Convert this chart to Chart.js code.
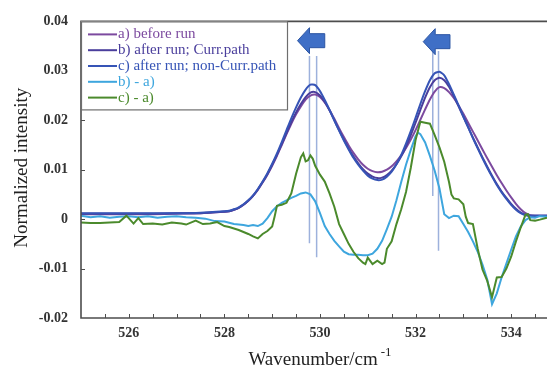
<!DOCTYPE html>
<html>
<head>
<meta charset="utf-8">
<title>Normalized intensity</title>
<script src="https://cdn.jsdelivr.net/npm/chart.js@4.4.0/dist/chart.umd.min.js"></script>
<style>
  body { margin: 0; background: #fff; }
  #wrap { width: 547px; height: 367px; }
</style>
</head>
<body>
<div id="wrap"><canvas id="myChart" width="547" height="367"></canvas></div>
<script>
	var serif = '"Liberation Serif", "Times New Roman", serif';

	// wavenumber grid shared by the three spectra
	var waveX = [525, 525.5, 526, 526.5, 527, 527.5,
		528.0, 528.1, 528.2, 528.3, 528.4, 528.5, 528.6, 528.7, 528.8, 528.9,
		529.0, 529.1, 529.2, 529.3, 529.4, 529.5, 529.6, 529.7, 529.8, 529.9,
		530.0, 530.1, 530.2, 530.3, 530.4, 530.5, 530.6, 530.7, 530.8, 530.9,
		531.0, 531.1, 531.2, 531.3, 531.4, 531.5, 531.6, 531.7, 531.8, 531.9,
		532.0, 532.1, 532.2, 532.3, 532.4, 532.5, 532.6, 532.7, 532.8, 532.9,
		533.0, 533.1, 533.2, 533.3, 533.4, 533.5, 533.6, 533.7, 533.8, 533.9,
		534.0, 534.1, 534.2, 534.3, 534.4, 534.5, 534.75];

	var specA = [0.0010, 0.0010, 0.0010, 0.0010, 0.0011, 0.0012,
		0.0015, 0.0016, 0.0019, 0.0023, 0.0029, 0.0037, 0.0047, 0.0059, 0.0074, 0.0090,
		0.0108, 0.0128, 0.0150, 0.0172, 0.0193, 0.0212, 0.0228, 0.0242, 0.0250, 0.0252,
		0.0247, 0.0236, 0.0221, 0.0203, 0.0184, 0.0166, 0.0149, 0.0134, 0.0121, 0.0110,
		0.0102, 0.0097, 0.0095, 0.0096, 0.0100, 0.0107, 0.0117, 0.0129, 0.0144, 0.0161,
		0.0180, 0.0201, 0.0222, 0.0242, 0.0258, 0.0267, 0.0265, 0.0257, 0.0245, 0.0230,
		0.0213, 0.0195, 0.0177, 0.0159, 0.0141, 0.0123, 0.0106, 0.0089, 0.0073, 0.0058,
		0.0044, 0.0031, 0.0020, 0.0012, 0.0008, 0.0007, 0.0007];

	var specB = [0.0011, 0.0011, 0.0011, 0.0011, 0.0012, 0.0012,
		0.0015, 0.0016, 0.0019, 0.0023, 0.0029, 0.0037, 0.0047, 0.0060, 0.0075, 0.0091,
		0.0110, 0.0130, 0.0152, 0.0174, 0.0196, 0.0216, 0.0233, 0.0247, 0.0256, 0.0257,
		0.0250, 0.0237, 0.0220, 0.0200, 0.0180, 0.0161, 0.0143, 0.0127, 0.0113, 0.0101,
		0.0092, 0.0086, 0.0083, 0.0084, 0.0089, 0.0098, 0.0111, 0.0127, 0.0147, 0.0170,
		0.0195, 0.0221, 0.0246, 0.0267, 0.0281, 0.0286, 0.0281, 0.0268, 0.0249, 0.0228,
		0.0207, 0.0186, 0.0165, 0.0145, 0.0125, 0.0106, 0.0088, 0.0071, 0.0056, 0.0043,
		0.0031, 0.0021, 0.0013, 0.0009, 0.0007, 0.0007, 0.0007];

	var specC = [0.0012, 0.0012, 0.0012, 0.0012, 0.0012, 0.0013,
		0.0016, 0.0017, 0.0020, 0.0024, 0.0030, 0.0038, 0.0048, 0.0061, 0.0076, 0.0093,
		0.0112, 0.0133, 0.0156, 0.0180, 0.0204, 0.0226, 0.0246, 0.0262, 0.0272, 0.0271,
		0.0259, 0.0241, 0.0221, 0.0200, 0.0179, 0.0159, 0.0141, 0.0124, 0.0110, 0.0098,
		0.0088, 0.0082, 0.0079, 0.0080, 0.0086, 0.0096, 0.0111, 0.0130, 0.0153, 0.0178,
		0.0205, 0.0233, 0.0259, 0.0281, 0.0295, 0.0298, 0.0291, 0.0273, 0.0252, 0.0230,
		0.0208, 0.0186, 0.0164, 0.0143, 0.0123, 0.0104, 0.0086, 0.0069, 0.0054, 0.0041,
		0.0029, 0.0019, 0.0012, 0.0008, 0.0007, 0.0007, 0.0007];

	// difference spectra b) - a)
	var diffBAx = [525.0, 525.2, 525.4, 525.6, 525.8, 526.0, 526.2, 526.4, 526.6, 526.8,
		527.0, 527.2, 527.4, 527.6, 527.8, 528.0, 528.2, 528.4,
		528.5, 528.6, 528.7, 528.8, 528.9, 529.0, 529.1, 529.2, 529.3, 529.4,
		529.5, 529.6, 529.7, 529.8, 529.9, 530.0, 530.1, 530.2, 530.3, 530.4,
		530.5, 530.6, 530.7, 530.8, 530.9, 531.0, 531.1, 531.2, 531.3, 531.4,
		531.5, 531.6, 531.7, 531.8, 531.9, 532.0, 532.05,
		532.1, 532.2, 532.3, 532.4, 532.5, 532.6, 532.7, 532.8, 532.9, 533.0,
		533.1, 533.2, 533.3, 533.4, 533.5, 533.6, 533.7, 533.8, 533.9, 534.0,
		534.1, 534.2, 534.3, 534.4, 534.5, 534.6, 534.75];
	var diffBA = [0.0007, 0.0004, 0.0006, 0.0003, 0.0005, 0.0006, 0.0004, 0.0006, 0.0003, 0.0005,
		0.0006, 0.0004, 0.0003, 0.0001, -0.0004, -0.0005, -0.0010, -0.0012,
		-0.0014, -0.0012, -0.0014, -0.0009, 0.0002, 0.0016, 0.0026, 0.0033, 0.0038, 0.0043,
		0.0047, 0.0052, 0.0054, 0.0050, 0.0036, 0.0012, -0.0014, -0.0030, -0.0044, -0.0055,
		-0.0066, -0.0071, -0.0072, -0.0072, -0.0073, -0.0073, -0.0070, -0.0060, -0.0044, -0.0020,
		0.0005, 0.0038, 0.0075, 0.0110, 0.0140, 0.0168, 0.0175,
		0.0172, 0.0155, 0.0128, 0.0098, 0.0062, 0.0010, 0.0002, 0.0007, 0.0006, -0.0010,
		-0.0026, -0.0045, -0.0066, -0.0092, -0.0122, -0.0172, -0.0150, -0.0118, -0.0090, -0.0062,
		-0.0035, -0.0015, -0.0002, 0.0004, 0.0003, 0.0006, 0.0005];

	// difference spectra c) - a)
	var diffCAx = [525.0, 525.2, 525.4, 525.6, 525.8, 525.95, 526.1, 526.2, 526.3, 526.5,
		526.7, 526.9, 527.1, 527.2, 527.4, 527.55, 527.7, 527.85, 528.0, 528.1,
		528.3, 528.5, 528.6, 528.7, 528.8, 528.9, 529.0, 529.05, 529.1, 529.2,
		529.3, 529.4, 529.5, 529.6, 529.65, 529.7, 529.75, 529.8, 529.85, 529.9,
		530.0, 530.1, 530.2, 530.3, 530.4, 530.5, 530.6, 530.7, 530.8, 530.9,
		530.95, 531.0, 531.1, 531.2, 531.3, 531.35, 531.4, 531.5, 531.6, 531.7,
		531.8, 531.9, 532.0, 532.1, 532.2, 532.3, 532.4, 532.5, 532.6, 532.7,
		532.75, 532.8, 532.9, 533.0, 533.05, 533.1, 533.2, 533.3, 533.4, 533.5,
		533.6, 533.7, 533.8, 533.9, 534.0, 534.1, 534.2, 534.3, 534.35, 534.4,
		534.5, 534.6, 534.75];
	var diffCA = [-0.0007, -0.0008, -0.0008, -0.0007, -0.0006, 0.0007, -0.0009, 0.0002, -0.0010, -0.0009,
		-0.0011, -0.0007, -0.0009, -0.0011, -0.0003, -0.0010, -0.0009, -0.0006, -0.0014, -0.0016,
		-0.0022, -0.0030, -0.0035, -0.0039, -0.0030, -0.0024, -0.0015, 0.0005, 0.0027, 0.0029,
		0.0033, 0.0052, 0.0092, 0.0125, 0.0133, 0.0117, 0.0119, 0.0129, 0.0122, 0.0108,
		0.0090, 0.0076, 0.0052, 0.0025, -0.0010, -0.0030, -0.0050, -0.0066, -0.0079, -0.0088,
		-0.0091, -0.0078, -0.0091, -0.0084, -0.0091, -0.0088, -0.0060, -0.0045, -0.0010, 0.0020,
		0.0055, 0.0104, 0.0160, 0.0197, 0.0195, 0.0193, 0.0170, 0.0145, 0.0116, 0.0075,
		0.0050, 0.0042, 0.0040, 0.0030, 0.0005, -0.0008, -0.0010, -0.0060, -0.0102, -0.0125,
		-0.0158, -0.0118, -0.0117, -0.0100, -0.0076, -0.0045, -0.0017, 0.0009, 0.0010, -0.0002,
		-0.0003, -0.0001, 0.0003];

	var seriesLabels = ['a) before run', 'b) after run; Curr.path', 'c) after run; non-Curr.path', 'b) - a)', 'c) - a)'];
	var seriesColors = ['#7c4a9f', '#4a3e9c', '#3654b6', '#3ea6de', '#4b8a2c'];

	// peak position markers (vertical guide lines)
	var markX = [529.78, 529.93, 532.36, 532.48];
	var markTop = [0.033, 0.033, 0.034, 0.034];
	var markBottom = [-0.0049, -0.0077, 0.0047, -0.0064];

	// shift arrows above the peaks
	var arrowTip = [529.53, 532.16];
	var arrowTail = [530.10, 532.72];
	var arrowY = [0.0361, 0.0359];

	// axis ticks
	var xTickPos = [525.5, 526, 526.5, 527, 527.5, 528, 528.5, 529, 529.5, 530, 530.5,
		531, 531.5, 532, 532.5, 533, 533.5, 534, 534.5];
	var xTickLabels = [526, 528, 530, 532, 534];
	var yTickVals = [-0.02, -0.01, 0, 0.01, 0.02, 0.03, 0.04];
	var yTickLabels = ['-0.02', '-0.01', '0', '0.01', '0.02', '0.03', '0.04'];

	function pts(xs, ys) {
		var out = [];
		for (var i = 0; i < xs.length; i++) {
			out.push({x: xs[i], y: ys[i]});
		}
		return out;
	}

	function spectrum(idx, data, order) {
		return {
			label: seriesLabels[idx],
			data: data,
			borderColor: seriesColors[idx],
			borderWidth: 2,
			pointRadius: 0,
			tension: 0.2,
			fill: false,
			order: order
		};
	}

	var datasets = [
		spectrum(0, pts(waveX, specA), 5),
		spectrum(1, pts(waveX, specB), 4),
		spectrum(2, pts(waveX, specC), 3),
		spectrum(3, pts(diffBAx, diffBA), 2),
		spectrum(4, pts(diffCAx, diffCA), 1)
	];
	datasets[3].tension = 0;
	datasets[4].tension = 0;

	for (var m = 0; m < markX.length; m++) {
		datasets.push({
			label: '',
			data: [{x: markX[m], y: markTop[m]}, {x: markX[m], y: markBottom[m]}],
			borderColor: '#9db1dc',
			borderWidth: 1.5,
			pointRadius: 0,
			order: 10
		});
	}

	// frame, inward ticks, arrows, legend box and axis titles
	var decorations = {
		id: 'decorations',
		afterDraw: function(chart) {
			var ctx = chart.ctx;
			var area = chart.chartArea;
			var xs = chart.scales.x;
			var ys = chart.scales.y;
			var i;

			ctx.save();
			ctx.strokeStyle = '#4d4d4d';
			ctx.lineWidth = 1.6;
			ctx.beginPath();
			ctx.moveTo(area.right + 2, area.top);
			ctx.lineTo(area.left, area.top);
			ctx.lineTo(area.left, area.bottom);
			ctx.lineTo(area.right + 2, area.bottom);
			ctx.stroke();

			ctx.lineWidth = 1;
			ctx.beginPath();
			for (i = 0; i < xTickPos.length; i++) {
				var tx = Math.round(xs.getPixelForValue(xTickPos[i])) + 0.5;
				ctx.moveTo(tx, area.bottom);
				ctx.lineTo(tx, area.bottom - 4);
			}
			for (i = 1; i < yTickVals.length - 1; i++) {
				var ty = Math.round(ys.getPixelForValue(yTickVals[i])) + 0.5;
				ctx.moveTo(area.left, ty);
				ctx.lineTo(area.left + 4, ty);
			}
			ctx.stroke();

			// arrows
			ctx.fillStyle = '#3f6fc6';
			ctx.strokeStyle = '#2c55a3';
			ctx.lineWidth = 1;
			for (i = 0; i < arrowTip.length; i++) {
				var x0 = xs.getPixelForValue(arrowTip[i]);
				var x2 = xs.getPixelForValue(arrowTail[i]);
				var cy = ys.getPixelForValue(arrowY[i]);
				var x1 = x0 + 12;
				ctx.beginPath();
				ctx.moveTo(x0, cy);
				ctx.lineTo(x1, cy - 13);
				ctx.lineTo(x1, cy - 7);
				ctx.lineTo(x2, cy - 7);
				ctx.lineTo(x2, cy + 7);
				ctx.lineTo(x1, cy + 7);
				ctx.lineTo(x1, cy + 13);
				ctx.closePath();
				ctx.fill();
				ctx.stroke();
			}

			// legend
			var lx = area.left, ly = area.top;
			ctx.fillStyle = '#fff';
			ctx.fillRect(lx, ly, 206, 88);
			ctx.strokeStyle = '#6e6e6e';
			ctx.lineWidth = 1.2;
			ctx.strokeRect(lx + 0.5, ly + 0.5, 206, 88);
			ctx.font = '15px ' + serif;
			ctx.textBaseline = 'middle';
			ctx.textAlign = 'left';
			for (i = 0; i < seriesLabels.length; i++) {
				var ry = ly + 13 + i * 15.8;
				ctx.strokeStyle = seriesColors[i];
				ctx.lineWidth = 2;
				ctx.beginPath();
				ctx.moveTo(lx + 7, ry);
				ctx.lineTo(lx + 36, ry);
				ctx.stroke();
				ctx.fillStyle = seriesColors[i];
				ctx.fillText(seriesLabels[i], lx + 37, ry);
			}

			// axis titles
			ctx.fillStyle = '#222';
			ctx.font = '19px ' + serif;
			ctx.textAlign = 'center';
			ctx.save();
			ctx.translate(22, (area.top + area.bottom) / 2 - 2);
			ctx.rotate(-Math.PI / 2);
			ctx.fillText('Normalized intensity', 0, 0);
			ctx.restore();

			var main = 'Wavenumber/cm', sup = '-1';
			ctx.font = '19px ' + serif;
			var w1 = ctx.measureText(main).width;
			ctx.font = '13px ' + serif;
			var w2 = ctx.measureText(sup).width + 3;
			var sx = (area.left + area.right) / 2 - (w1 + w2) / 2 + 6;
			ctx.textAlign = 'left';
			ctx.textBaseline = 'alphabetic';
			ctx.font = '19px ' + serif;
			ctx.fillText(main, sx, 365);
			ctx.font = '13px ' + serif;
			ctx.fillText(sup, sx + w1 + 3, 356);
			ctx.restore();
		}
	};

	var ctx = document.getElementById('myChart').getContext('2d');
	var myChart = new Chart(ctx, {
		type: 'line',
		data: { datasets: datasets },
		options: {
			responsive: false,
			animation: false,
			events: [],
			layout: { padding: { top: 20, right: 0, bottom: 0, left: 0 } },
			plugins: {
				legend: { display: false },
				tooltip: { enabled: false }
			},
			scales: {
				x: {
					type: 'linear',
					min: 525,
					max: 534.75,
					afterBuildTicks: function(s) {
						s.ticks = xTickPos.map(function(v) { return {value: v}; });
					},
					afterFit: function(s) { s.height = 49; },
					grid: { display: false, drawTicks: false },
					border: { display: false },
					ticks: {
						autoSkip: false,
						maxRotation: 0,
						padding: 7,
						color: '#333',
						font: { family: serif, size: 14, weight: 'bold' },
						callback: function(v) {
							return xTickLabels.indexOf(v) >= 0 ? String(v) : '';
						}
					}
				},
				y: {
					min: -0.02,
					max: 0.04,
					afterBuildTicks: function(s) {
						s.ticks = yTickVals.map(function(v) { return {value: v}; });
					},
					afterFit: function(s) { s.width = 81; },
					grid: { display: false, drawTicks: false },
					border: { display: false },
					ticks: {
						padding: 13,
						color: '#333',
						font: { family: serif, size: 14, weight: 'bold' },
						callback: function(v, idx) { return yTickLabels[idx]; }
					}
				}
			}
		},
		plugins: [decorations]
	});
</script>
</body>
</html>
